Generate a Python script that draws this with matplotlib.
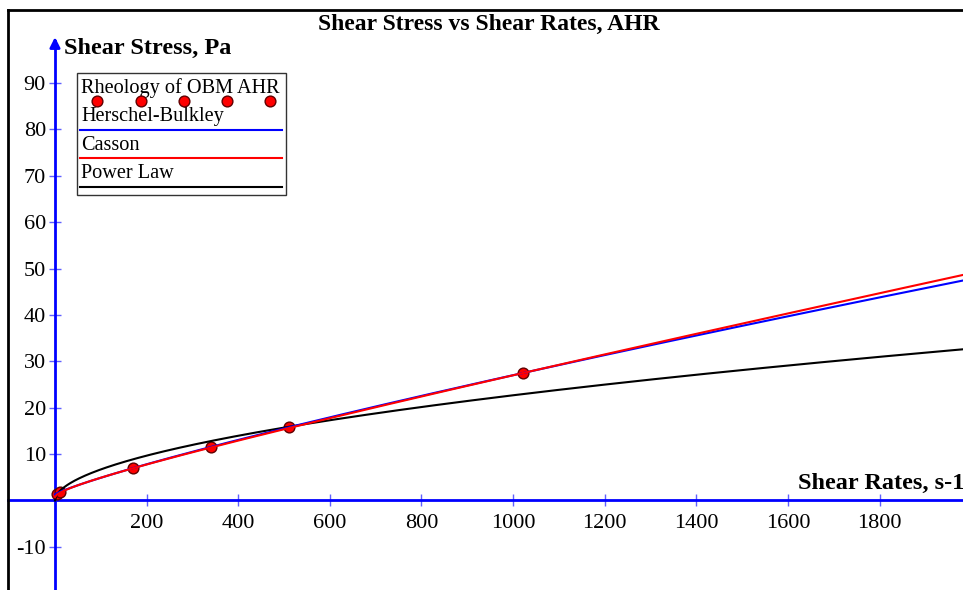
import numpy as np
import matplotlib
matplotlib.use("Agg")
import matplotlib.pyplot as plt
from matplotlib.patches import Rectangle
from matplotlib.lines import Line2D

# --- data ---
shear_rate = [5.11, 10.22, 170.3, 340.6, 510.9, 1021.8]
shear_stress = [1.5, 1.9, 7.0, 11.6, 15.8, 27.4]

# model parameters (estimated from the drawn curves)
hb_tau0, hb_K, hb_n = 1.3, 0.0705, 0.854        # Herschel-Bulkley
cas_tau0, cas_mu = 0.70, 0.0190                  # Casson
pl_K, pl_n = 0.583, 0.53                         # Power Law

x_ticks = [200, 400, 600, 800, 1000, 1200, 1400, 1600, 1800]
y_ticks = [-10, 10, 20, 30, 40, 50, 60, 70, 80, 90]

legend_labels = ["Rheology of OBM AHR", "Herschel-Bulkley", "Casson", "Power Law"]

W, H = 963, 590
plt.rcParams["font.family"] = ["Liberation Serif", "DejaVu Serif"]
plt.rcParams["axes.unicode_minus"] = False

fig = plt.figure(figsize=(W / 100, H / 100), dpi=100)
ax = fig.add_axes([0, 0, 1, 1])
ax.set_xlim(-120, 1982)
ax.set_ylim(-19.3, 107.9)

g = np.linspace(0, 1982, 600)
hb = hb_tau0 + hb_K * g ** hb_n
cas = (np.sqrt(cas_tau0) + np.sqrt(cas_mu * g)) ** 2
pl = pl_K * g ** pl_n

ax.scatter(shear_rate, shear_stress, s=60, color="#ff0000", edgecolor="#600000",
           linewidth=1, zorder=3)
ax.plot(g, pl, color="black", lw=1.5, zorder=4)
ax.plot(g, hb, color="#0000ff", lw=1.5, zorder=4)
ax.plot(g, cas, color="#ff0000", lw=1.5, zorder=5)

# axes through the origin
for s in ["top", "right"]:
    ax.spines[s].set_visible(False)
ax.spines["left"].set_position(("data", 0))
ax.spines["bottom"].set_position(("data", 0))
ax.spines["left"].set_color("#0000ff")
ax.spines["bottom"].set_color("#0000ff")
ax.spines["left"].set_linewidth(2)
ax.spines["bottom"].set_linewidth(2)
ax.spines["left"].set_bounds(-19.3, 99)
ax.spines["bottom"].set_bounds(-103, 1982)
ax.set_xticks(x_ticks)
ax.set_yticks(y_ticks)
ax.tick_params(axis="both", direction="inout", length=9, width=1,
               color="#6060ff", labelsize=16, labelcolor="black")
ax.tick_params(axis="x", pad=5)
ax.tick_params(axis="y", pad=2)

ax.annotate("", xy=(0, 100.5), xytext=(0, 97),
            arrowprops=dict(arrowstyle="-|>,head_width=0.3,head_length=0.6",
                            color="#0000ff", lw=2))

# overlay in pixel units for frame, labels and legend
ov = fig.add_axes([0, 0, 1, 1], facecolor="none")
ov.set_xlim(0, W)
ov.set_ylim(H, 0)
ov.axis("off")

ov.add_line(Line2D([8, 8], [10, H], color="black", lw=2))
ov.add_line(Line2D([8, W], [10, 10], color="black", lw=2))

ov.text(489, 24, "Shear Stress vs Shear Rates, AHR", ha="center", va="center",
        fontsize=17, fontweight="bold")
ov.text(64, 48, "Shear Stress, Pa", ha="left", va="center",
        fontsize=17.5, fontweight="bold")
ov.text(798, 483, "Shear Rates, s-1", ha="left", va="center",
        fontsize=17.5, fontweight="bold")

# legend box
ov.add_patch(Rectangle((77, 73), 209, 122, facecolor="white", edgecolor="#333333",
                       lw=1, zorder=6))
text_y = [88, 117, 145, 174]
for lab, ty in zip(legend_labels, text_y):
    ov.text(81, ty, lab, ha="left", va="center", fontsize=14.6, zorder=7)
ov.scatter([97, 141, 184, 227, 270], [101] * 5, s=60, color="#ff0000",
           edgecolor="#600000", linewidth=1, zorder=7)
for col, ly in zip(["#0000ff", "#ff0000", "black"], [129.5, 158, 186.5]):
    ov.add_line(Line2D([80, 282], [ly, ly], color=col, lw=1.5, zorder=7))

fig.savefig("out.png", dpi=100)
